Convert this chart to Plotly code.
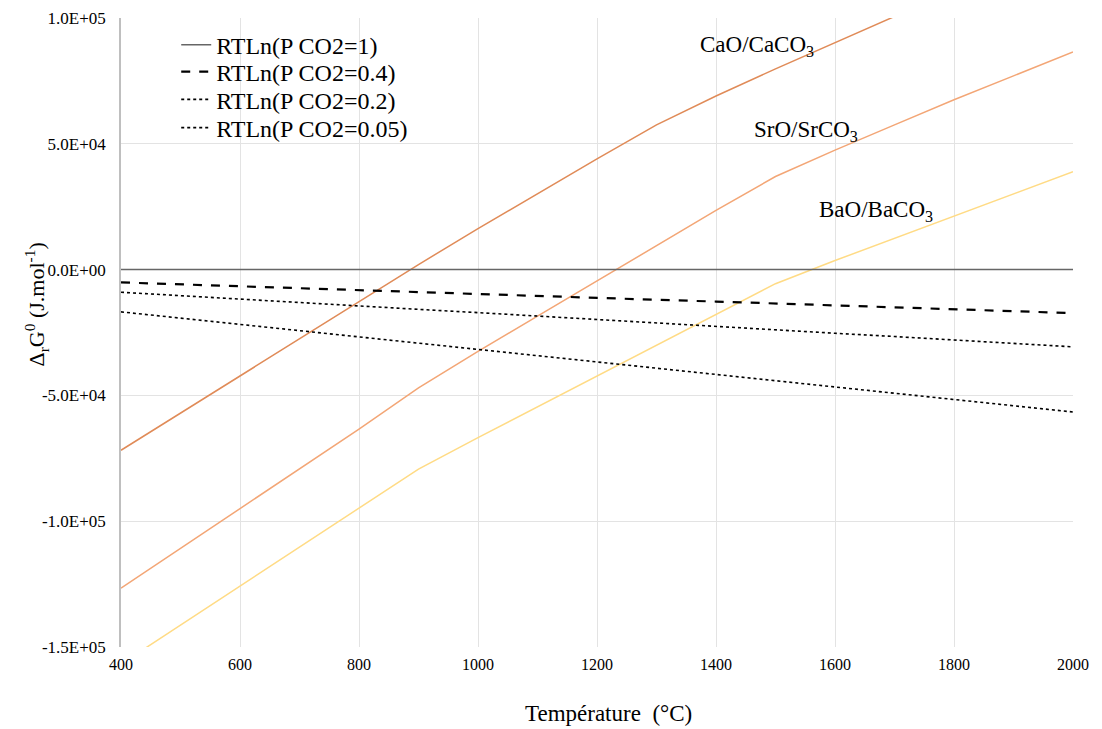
import plotly.graph_objects as go

T = [400, 500, 600, 700, 800, 900, 1000, 1100, 1200, 1300, 1400, 1500, 1600, 1700, 1800, 1900, 2000]

cao = [-71800, -57000, -42200, -27400, -12600, 2000, 16300, 30300, 44000, 57500, 69000, 79800, 90300, 100600, 110800, 120800, 130700]
sro = [-126600, -110800, -95000, -79200, -63400, -47000, -32500, -18500, -4500, 9500, 23500, 37000, 47500, 57500, 67500, 77000, 86500]
bao = [-156800, -141300, -125800, -110300, -94800, -79300, -66800, -54500, -42300, -30100, -17900, -5600, 3600, 12500, 21300, 30100, 38900]

p1 = [0] * len(T)
p04 = [-5100, -5900, -6600, -7400, -8200, -8900, -9700, -10400, -11200, -12000, -12700, -13500, -14200, -15000, -15800, -16500, -17300]
p02 = [-9000, -10400, -11700, -13100, -14400, -15800, -17100, -18500, -19800, -21200, -22600, -23900, -25300, -26600, -28000, -29300, -30700]
p005 = [-16800, -19300, -21800, -24300, -26800, -29300, -31700, -34200, -36700, -39200, -41700, -44200, -46700, -49100, -51600, -54100, -56600]

y_ticks = [100000, 50000, 0, -50000, -100000, -150000]
y_text = ["1.0E+05", "5.0E+04", "0.0E+00", "-5.0E+04", "-1.0E+05", "-1.5E+05"]
x_ticks = [400, 600, 800, 1000, 1200, 1400, 1600, 1800, 2000]

FONT = "Liberation Serif, Times New Roman, serif"

fig = go.Figure()
fig.add_trace(go.Scatter(x=T, y=cao, mode="lines", line=dict(color="#E08B58", width=1.5), showlegend=False, name="CaO/CaCO3"))
fig.add_trace(go.Scatter(x=T, y=sro, mode="lines", line=dict(color="#F3A676", width=1.5), showlegend=False, name="SrO/SrCO3"))
fig.add_trace(go.Scatter(x=T, y=bao, mode="lines", line=dict(color="#FFDB85", width=1.5), showlegend=False, name="BaO/BaCO3"))

fig.add_trace(go.Scatter(x=T, y=p1, mode="lines", line=dict(color="#666666", width=1.5), name="RTLn(P CO2=1)", legend="legend"))
fig.add_trace(go.Scatter(x=T, y=p04, mode="lines", line=dict(color="#000000", width=2.2, dash="dash"), name="RTLn(P CO2=0.4)", legend="legend2"))
fig.add_trace(go.Scatter(x=T, y=p02, mode="lines", line=dict(color="#000000", width=1.6, dash="dot"), name="RTLn(P CO2=0.2)", legend="legend3"))
fig.add_trace(go.Scatter(x=T, y=p005, mode="lines", line=dict(color="#000000", width=1.6, dash="dot"), name="RTLn(P CO2=0.05)", legend="legend4"))

ann_font = dict(family=FONT, size=23, color="#000000")
fig.add_annotation(x=1469, y=88900, text="CaO/CaCO<sub>3</sub>", showarrow=False, font=ann_font)
fig.add_annotation(x=1552, y=55200, text="SrO/SrCO<sub>3</sub>", showarrow=False, font=ann_font)
fig.add_annotation(x=1669, y=23400, text="BaO/BaCO<sub>3</sub>", showarrow=False, font=ann_font)

# axis titles
fig.add_annotation(xref="paper", yref="paper", x=-0.089, y=0.545, xanchor="center", yanchor="middle",
                   textangle=-90, showarrow=False,
                   text="Δ<sub>r</sub>G<sup>0</sup> (J.mol<sup>-1</sup>)", font=dict(family=FONT, size=22))
fig.add_annotation(xref="paper", yref="paper", x=0.5126, y=-0.105, xanchor="center", yanchor="middle",
                   showarrow=False, text="Température  (°C)", font=dict(family=FONT, size=23))

def leg(y):
    return dict(x=0.058, y=y, xanchor="left", yanchor="middle",
                font=dict(family=FONT, size=24), bgcolor="rgba(0,0,0,0)",
                itemwidth=30, borderwidth=0)

fig.update_layout(
    width=1102, height=729,
    margin=dict(l=113, r=37, t=10, b=90, autoexpand=False),
    paper_bgcolor="white", plot_bgcolor="white",
    font=dict(family=FONT, size=16, color="#000000"),
    legend=leg(0.957), legend2=leg(0.914), legend3=leg(0.870), legend4=leg(0.825),
    xaxis=dict(range=[400, 2000], tickvals=x_ticks, showgrid=True, gridcolor="#E3E3E3",
               zeroline=False, showline=False, ticks="", tickfont=dict(size=16),
               ticklabelstandoff=6, automargin=False),
    yaxis=dict(range=[-150000, 100000], tickvals=y_ticks, ticktext=y_text, showgrid=True,
               gridcolor="#E3E3E3", zeroline=False, showline=True, linecolor="#BFBFBF",
               linewidth=1.5, ticks="", tickfont=dict(size=17), ticklabelstandoff=10,
               automargin=False),
)

fig.write_html("out.html")
